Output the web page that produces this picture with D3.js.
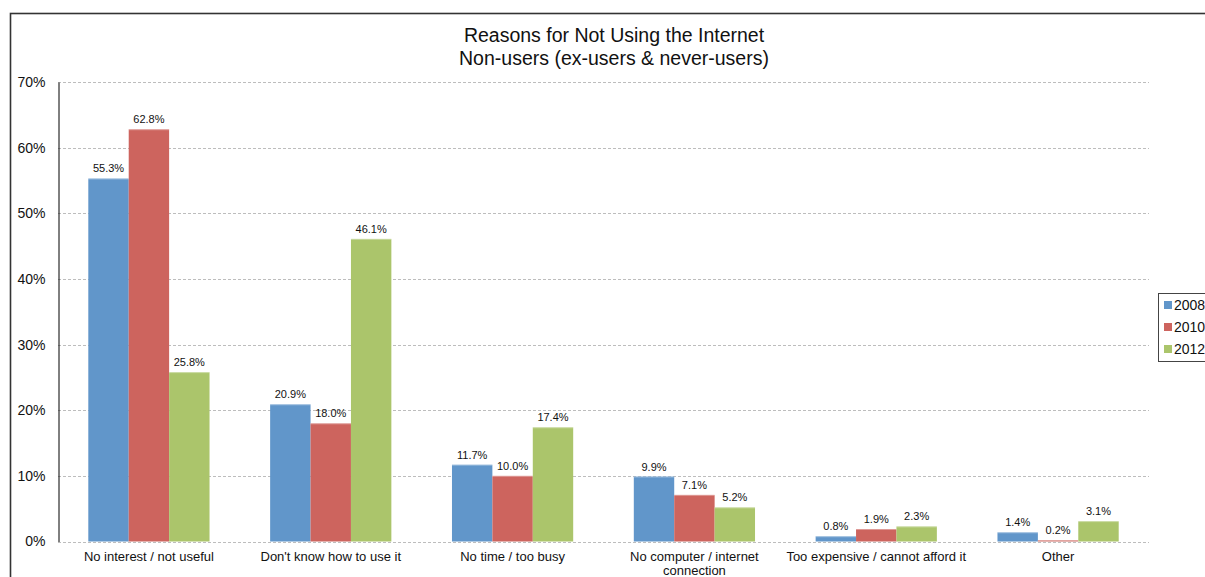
<!DOCTYPE html>
<html>
<head>
<meta charset="utf-8">
<script src="https://cdn.jsdelivr.net/npm/d3@7"></script>
<style>
  html, body { margin: 0; padding: 0; background: #fff; }
  svg { display: block; font-family: "Liberation Sans", Arial, sans-serif; }
</style>
</head>
<body>
<svg id="chart" width="1205" height="577"></svg>
<script>
// Survey reasons for not using the internet, by year
const categories = [
  ["No interest / not useful"],
  ["Don't know how to use it"],
  ["No time / too busy"],
  ["No computer / internet", "connection"],
  ["Too expensive / cannot afford it"],
  ["Other"]
];
const years = ["2008", "2010", "2012"];
const values2008 = [55.3, 20.9, 11.7, 9.9, 0.8, 1.4];
const values2010 = [62.8, 18.0, 10.0, 7.1, 1.9, 0.2];
const values2012 = [25.8, 46.1, 17.4, 5.2, 2.3, 3.1];
const yTicks = [0, 10, 20, 30, 40, 50, 60, 70];
const colors = ["#6196CA", "#CD645E", "#ABC56B"];

const seriesValues = [values2008, values2010, values2012];
const svg = d3.select("#chart");

// outer frame
svg.append("rect")
  .attr("x", 10.5).attr("y", 13.5)
  .attr("width", 1260).attr("height", 620)
  .attr("fill", "none").attr("stroke", "#333").attr("stroke-width", 1.6);

const plot = { left: 58, right: 1149, top: 82, bottom: 541.5 };

const x0 = d3.scaleBand()
  .domain(d3.range(categories.length))
  .range([plot.left, plot.right])
  .paddingInner(1 / 3).paddingOuter(1 / 6);
const x1 = d3.scaleBand()
  .domain(d3.range(years.length))
  .range([0, x0.bandwidth()]);
const y = d3.scaleLinear().domain([0, 70]).range([plot.bottom, plot.top]);

// gridlines
svg.append("g")
  .selectAll("line")
  .data(yTicks)
  .join("line")
  .attr("x1", plot.left).attr("x2", plot.right)
  .attr("y1", d => Math.round(y(d)) + 0.5).attr("y2", d => Math.round(y(d)) + 0.5)
  .attr("stroke", "#bdbdbd").attr("stroke-width", 1)
  .attr("stroke-dasharray", "3,2");

// y axis
const yAxis = d3.axisLeft(y)
  .tickValues(yTicks)
  .tickFormat(d => d + "%")
  .tickSize(0)
  .tickPadding(13);
const yg = svg.append("g").attr("transform", `translate(${plot.left + 0.5},0)`).call(yAxis);
yg.select(".domain").attr("stroke", "#000").attr("stroke-width", 1);
yg.selectAll("text").attr("font-size", 14).attr("fill", "#111")
  .attr("font-family", "Liberation Sans, Arial, sans-serif");

// bars
const groups = svg.append("g")
  .selectAll("g")
  .data(categories.map((c, i) => i))
  .join("g")
  .attr("transform", i => `translate(${x0(i)},0)`);

groups.selectAll("rect.bar")
  .data(i => seriesValues.map((s, k) => ({ k, v: s[i] })))
  .join("rect")
  .attr("class", "bar")
  .attr("x", d => x1(d.k))
  .attr("width", x1.bandwidth())
  .attr("y", d => y(d.v))
  .attr("height", d => plot.bottom - y(d.v))
  .attr("fill", d => colors[d.k]);

// thin highlight along the bar tops
groups.selectAll("line.hl")
  .data(i => seriesValues.map((s, k) => ({ k, v: s[i] })))
  .join("line")
  .attr("class", "hl")
  .attr("x1", d => x1(d.k)).attr("x2", d => x1(d.k) + x1.bandwidth())
  .attr("y1", d => y(d.v) + 0.5).attr("y2", d => y(d.v) + 0.5)
  .attr("stroke", "#fff").attr("stroke-opacity", 0.35);

// value labels
groups.selectAll("text.val")
  .data(i => seriesValues.map((s, k) => ({ k, v: s[i] })))
  .join("text")
  .attr("class", "val")
  .attr("x", d => x1(d.k) + x1.bandwidth() / 2)
  .attr("y", d => y(d.v) - 6)
  .attr("text-anchor", "middle")
  .attr("font-size", 11)
  .attr("fill", "#111")
  .text(d => d.v.toFixed(1) + "%");

// category labels
const catLabels = svg.append("g")
  .selectAll("text")
  .data(categories.map((c, i) => ({ c, i })))
  .join("text")
  .attr("x", d => x0(d.i) + x0.bandwidth() / 2)
  .attr("y", 561)
  .attr("text-anchor", "middle")
  .attr("font-size", 13)
  .attr("fill", "#111");
catLabels.selectAll("tspan")
  .data(d => d.c)
  .join("tspan")
  .attr("x", function () { return d3.select(this.parentNode).attr("x"); })
  .attr("dy", (d, j) => j === 0 ? 0 : 14)
  .text(d => d);

// title
const title = svg.append("text")
  .attr("x", 614)
  .attr("text-anchor", "middle")
  .attr("font-size", 19.5)
  .attr("fill", "#111");
title.append("tspan").attr("x", 614).attr("y", 42).text("Reasons for Not Using the Internet");
title.append("tspan").attr("x", 614).attr("y", 65).text("Non-users (ex-users & never-users)");

// legend
const legend = svg.append("g").attr("transform", "translate(1158,293)");
legend.append("rect")
  .attr("x", 0.5).attr("y", 0.5).attr("width", 80).attr("height", 68)
  .attr("fill", "#fff").attr("stroke", "#444").attr("stroke-width", 1);
const li = legend.selectAll("g.item")
  .data(years.map((yr, k) => ({ yr, k })))
  .join("g")
  .attr("class", "item")
  .attr("transform", d => `translate(6,${8 + d.k * 22})`);
li.append("rect")
  .attr("width", 8).attr("height", 8)
  .attr("fill", d => colors[d.k]);
li.append("text")
  .attr("x", 10).attr("y", 9)
  .attr("font-size", 14)
  .attr("fill", "#111")
  .text(d => d.yr);
</script>
</body>
</html>
